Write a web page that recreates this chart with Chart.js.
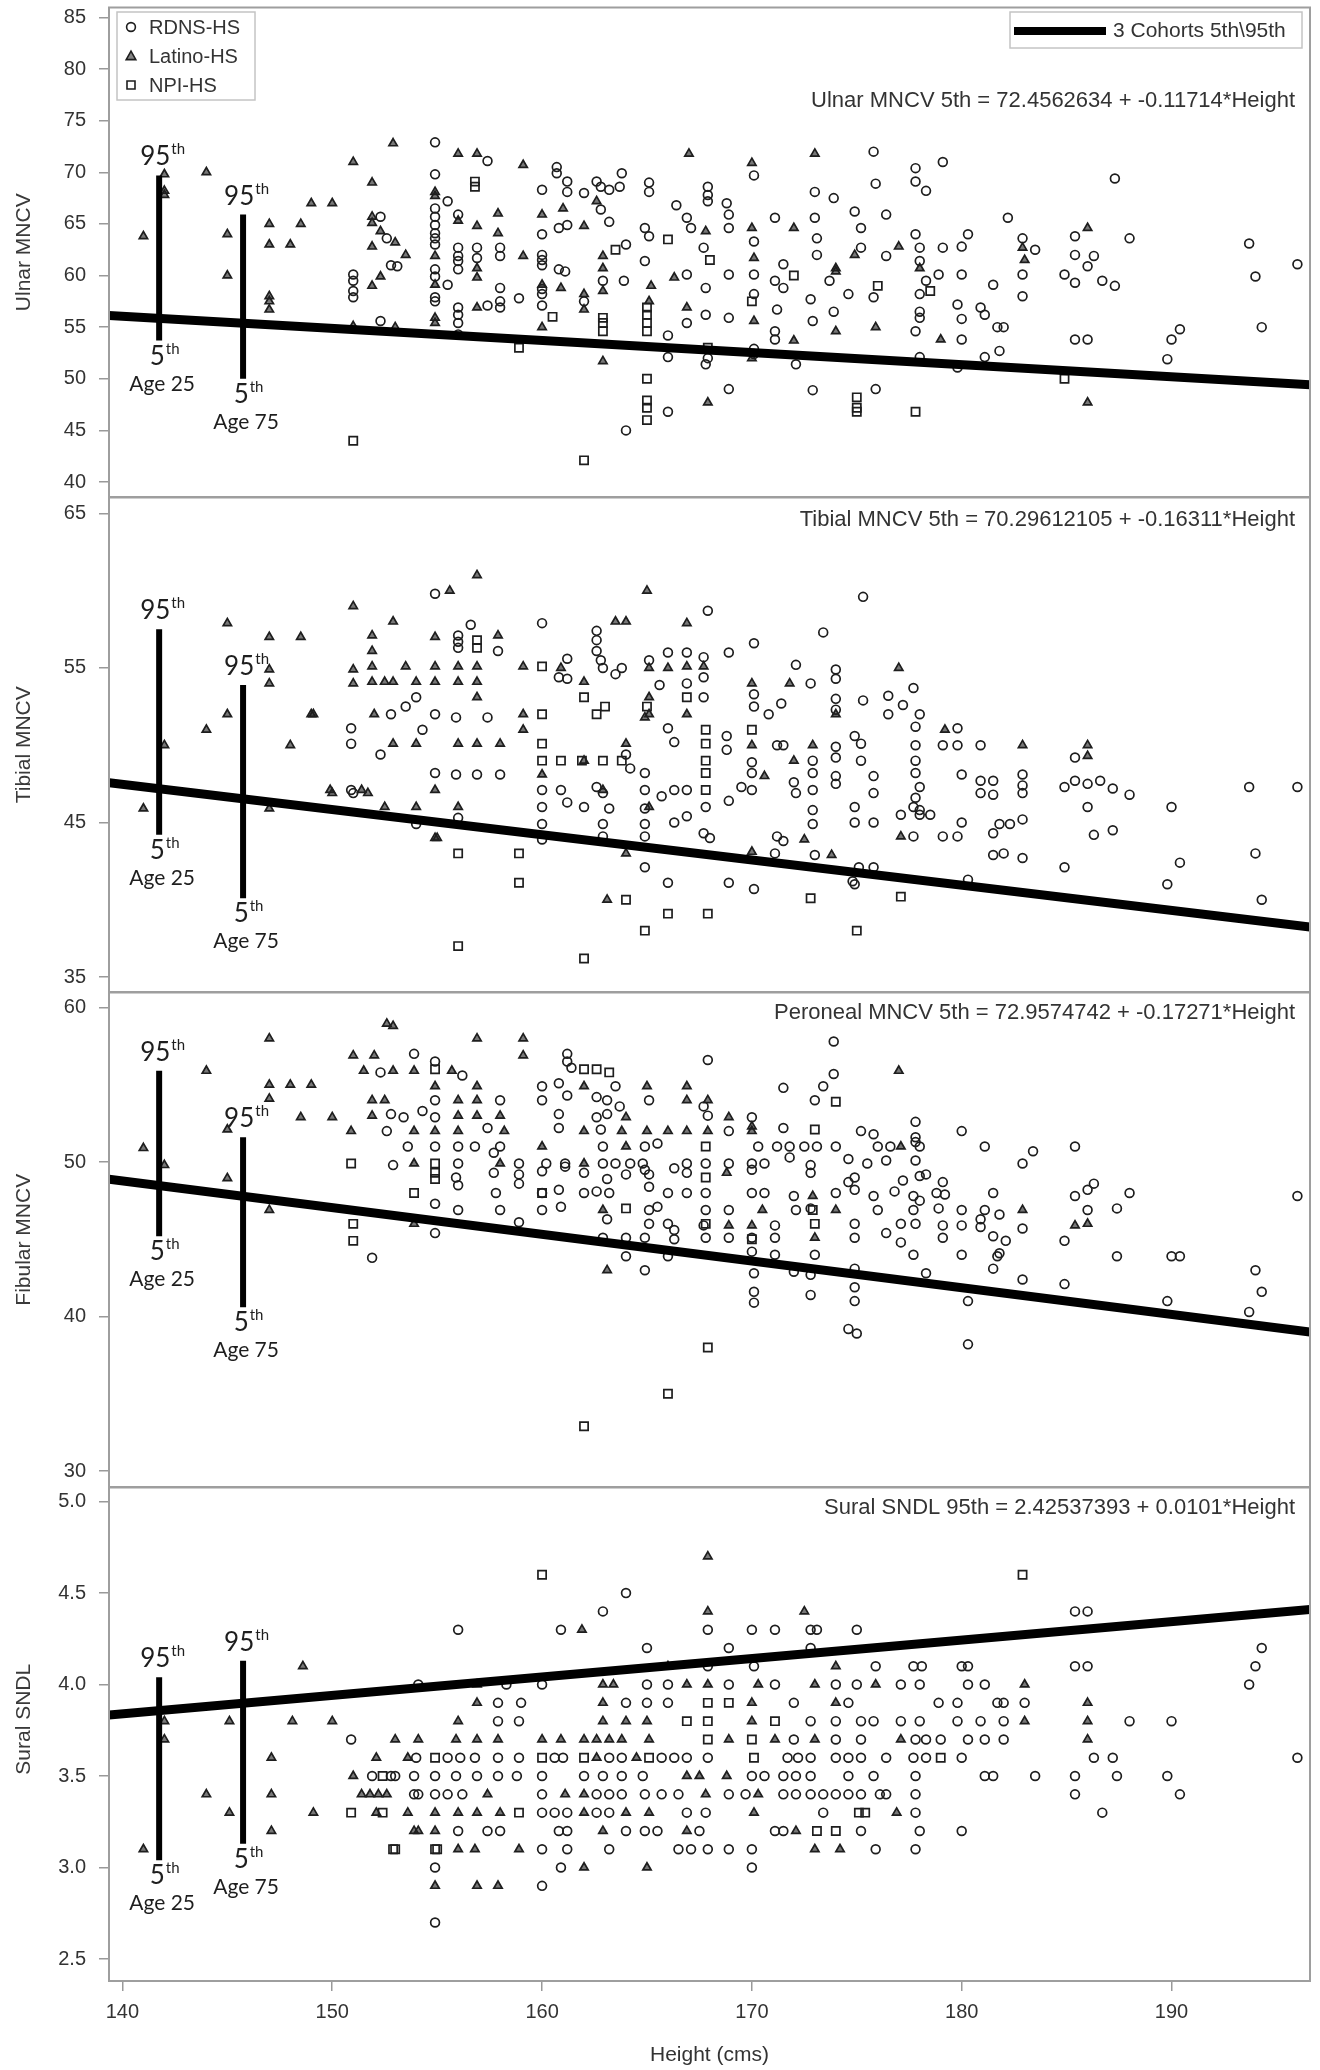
<!DOCTYPE html>
<html>
<head>
<meta charset="utf-8">
<title>MNCV / SNDL by height</title>
<script src="https://cdn.jsdelivr.net/npm/chart.js@4.4.1/dist/chart.umd.min.js"></script>
<style>
  body { margin: 0; background: #fff; width: 1320px; height: 2070px; position: relative; overflow: hidden; }
  canvas { position: absolute; left: 0; }
</style>
</head>
<body>
<canvas id="c1" width="1320" height="505" style="top:0"></canvas>
<canvas id="c2" width="1320" height="510" style="top:490px"></canvas>
<canvas id="c3" width="1320" height="510" style="top:985px"></canvas>
<canvas id="c4" width="1320" height="590" style="top:1480px"></canvas>
<script>
// ---- shared axis ----
const heightRange = [139.36, 196.6];
const heightTicks = [140, 150, 160, 170, 180, 190];
const fitX = [139.36, 196.6];
const barX = [141.75, 145.75];
const ageLabels = ['Age 25', 'Age 75'];

// ---- Ulnar MNCV ----
const ulnarRange = [38.55, 85.96];
const ulnarTicks = [40, 45, 50, 55, 60, 65, 70, 75, 80, 85];
const ulnarFitY = [56.13, 49.43];
const ulnarBarLow = [53.7, 50.0];
const ulnarBarHigh = [69.7, 65.9];
const ulnarRdns = [[151,60.1],[151,59.5],[151,58.5],[151,57.9],
  [152.3,65.7],[152.6,63.6],[152.8,61.0],[153.1,60.9],[152.3,55.6],
  [154.9,72.9],[154.9,69.8],[154.9,66.5],[154.9,65.7],[154.9,64.9],[154.9,64.1],[154.9,63.6],[154.9,63.0],[154.9,60.6],[154.9,59.9],[154.9,57.9],[154.9,57.5],
  [155.5,67.2],[156.0,65.9],[156.0,62.7],[156.0,61.9],[156.0,61.4],[156.0,60.6],[155.5,59.1],[156.0,56.9],[156.0,56.2],[156.0,55.4],[156.0,54.3],
  [157.4,71.1],[156.9,62.7],[156.9,61.7],[157.4,57.1],[158.0,56.9],[158.0,62.7],[158.0,61.9],[158.0,58.8],[158.0,57.5],[158.9,57.8],
  [160.0,68.3],[160.0,64.0],[160.0,62.0],[160.0,61.5],[160.0,61.0],[160.0,58.7],[160.0,58.2],[160.0,57.1],
  [160.7,70.5],[160.7,69.9],[161.2,69.1],[161.2,68.1],[162.0,68.0],[160.8,64.6],[161.2,64.9],[160.8,60.6],[161.1,60.4],[162.0,57.5],
  [162.6,69.1],[162.8,68.6],[163.2,68.3],[163.7,68.6],[162.8,66.4],[163.2,65.2],[162.9,59.5],[163.8,69.9],[164.0,63.0],[163.9,59.5],[164.0,45.0],
  [165.1,69.0],[165.1,68.1],[164.9,64.6],[165.1,63.8],[164.9,61.4],[166.0,54.2],[166.0,52.1],[166.0,46.8],
  [166.4,66.8],[166.9,65.6],[167.1,64.6],[167.7,62.7],[166.9,60.1],[167.8,58.8],[166.9,55.4],[167.8,56.2],[167.9,68.6],[167.9,67.8],[167.9,67.2],[167.8,51.4],[167.9,52.0],
  [168.8,67.0],[168.9,65.9],[168.9,64.6],[168.9,60.1],[168.9,55.9],[168.9,49.0],[170.1,69.7],[170.1,63.3],[170.1,60.1],[170.1,58.2],[170.1,52.9],[170.1,52.4],
  [171.1,65.6],[171.5,61.1],[171.1,59.5],[171.2,56.7],[171.1,54.6],[171.1,53.8],[172.1,51.4],[171.5,58.8],
  [173.0,68.1],[173.9,67.5],[173.0,65.6],[173.1,63.6],[173.1,62.0],[173.7,59.5],[172.8,57.7],[173.9,56.5],[172.9,55.6],[172.9,48.9],
  [174.9,66.2],[175.2,64.6],[175.2,62.7],[175.8,57.9],[174.6,58.2],[175.9,68.9],[175.8,72.0],[175.9,49.0],
  [176.4,65.9],[176.4,61.9],[177.8,64.0],[178.0,62.7],[178.0,61.4],[178.3,59.5],[178.0,58.2],[178.0,56.5],[178.0,55.9],[177.8,54.6],[178.0,52.1],[177.8,70.4],[177.8,69.1],[178.3,68.2],
  [179.1,71.0],[179.1,62.7],[180.0,62.8],[180.3,64.0],[178.9,60.1],[180.0,60.1],[179.8,57.2],[180.0,55.8],[180.0,53.8],[179.8,51.1],[181.1,52.1],[180.9,56.9],[181.1,56.2],[181.5,59.1],[181.7,55.0],[182.0,55.0],[181.8,52.7],
  [182.2,65.6],[182.9,63.6],[183.5,62.5],[182.9,60.1],[182.9,58.0],
  [185.4,63.8],[185.4,62.0],[186.3,61.9],[186.0,60.9],[184.9,60.1],[185.4,59.3],[186.7,59.5],[187.3,59.0],[185.4,53.8],[186.0,53.8],
  [187.3,69.4],[188.0,63.6],[189.8,51.9],[190.0,53.8],[190.4,54.8],[193.7,63.1],[194.0,59.9],[194.3,55.0],[196.0,61.1]];
const ulnarLatino = [[141.0,63.8],[142.0,69.8],[142.0,68.2],[142.0,67.8],[144.0,70.0],[145.0,64.0],[145.0,60.0],
  [147.0,65.0],[147.0,63.0],[147.0,58.0],[147.0,57.5],[147.0,56.7],[148.0,63.0],[148.5,65.0],[149.0,67.0],[150.0,67.0],
  [151.0,71.0],[151.0,55.1],[151.9,69.0],[151.9,65.7],[151.9,65.1],[152.3,64.3],[151.9,62.8],[152.3,59.9],[151.9,59.0],[153.0,55.0],
  [152.9,72.8],[153.0,63.2],[153.5,62.0],[154.9,68.1],[154.9,67.7],[154.9,61.9],[154.9,59.1],[154.9,55.9],[154.9,55.4],
  [156.0,71.8],[156.0,65.3],[156.9,71.8],[156.9,64.8],[156.9,60.7],[156.9,59.8],[156.9,56.9],[157.9,66.0],[157.9,64.1],
  [159.1,70.7],[159.1,61.9],[160.0,65.9],[160.0,59.1],[160.0,55.0],[161.0,66.5],[160.9,58.8],[162.0,64.8],[162.0,58.2],[162.0,56.7],
  [162.6,67.2],[162.9,61.9],[162.9,60.7],[162.9,58.5],[162.9,51.7],[165.2,59.0],[165.1,57.5],[166.9,56.9],[167.8,64.3],[166.3,59.8],[167.0,71.8],[167.9,47.7],
  [170.0,70.9],[170.0,64.6],[170.1,61.7],[170.1,55.6],[170.0,52.0],[172.0,64.6],[172.0,53.7],[173.0,71.8],[174.0,60.7],[174.0,60.4],[174.0,54.6],
  [174.9,62.0],[175.9,55.0],[177.0,62.8],[178.0,60.7],[179.0,53.8],[182.9,62.7],[183.0,61.5],[186.0,64.6],[186.0,47.7]];
const ulnarNpi = [[151.0,44.0],[156.8,69.1],[156.8,68.6],[158.9,53.0],[162.0,42.1],[162.9,55.9],[162.9,55.4],[162.9,54.6],
  [165.0,56.9],[165.0,56.2],[165.0,55.4],[165.0,54.6],[165.0,50.0],[165.0,47.9],[165.0,47.2],[165.0,46.0],[167.9,53.0],
  [175.0,48.2],[175.0,47.2],[175.0,46.8],[177.8,46.8],[184.9,50.0],[170.0,57.5],[168.0,61.5],[166.0,63.5],[172.0,60.0],
  [163.5,62.5],[176.0,59.0],[178.5,58.5],[160.5,56.0]];

// ---- Tibial MNCV ----
const tibialRange = [34.03, 66.03];
const tibialTicks = [35, 45, 55, 65];
const tibialFitY = [47.57, 38.23];
const tibialBarLow = [44.2, 40.1];
const tibialBarHigh = [57.5, 53.9];
const tibialRdns = [[151.0,46.9],[154.9,59.8],[175.3,59.6],[160.0,57.9],[167.9,58.7],[173.4,57.3],[156.6,57.8],
  [156.0,57.1],[156.0,56.7],[156.0,56.3],[157.9,56.1],[162.6,57.4],[162.6,56.8],[162.6,56.1],[162.8,55.5],[162.9,55.0],
  [170.1,56.6],[168.9,56.0],[166.0,56.0],[166.9,56.0],[167.7,55.7],[172.1,55.2],[161.2,55.6],[160.8,54.4],[161.2,54.3],[163.8,55.0],[163.5,54.6],[165.1,55.5],
  [165.6,53.9],[166.9,54.0],[167.7,54.4],[167.7,53.1],[174.0,54.3],[174.0,54.9],[172.8,54.0],
  [170.1,53.3],[170.1,52.5],[177.7,53.7],[176.5,53.2],[177.2,52.6],[176.5,52.0],[178.0,52.0],[177.8,51.2],
  [175.3,52.9],[174.0,53.0],[174.0,52.3],[171.4,52.7],[170.8,52.0],[152.8,52.0],[154.0,53.1],[153.5,52.5],[154.9,52.0],[155.9,51.8],[157.4,51.8],
  [150.9,51.1],[150.9,50.1],[154.3,51.0],[166.0,51.1],[166.3,50.2],[168.8,50.6],[168.8,49.7],
  [170.0,48.9],[170.0,48.2],[170.0,47.1],[171.2,50.0],[171.5,50.0],[172.9,49.0],[172.9,48.2],[172.9,47.1],[174.0,49.9],[174.0,49.2],[174.0,48.0],[174.0,47.5],
  [174.9,50.6],[175.2,50.1],[175.2,49.0],[175.8,48.0],[175.8,46.9],[177.8,50.0],[177.8,49.0],[177.8,48.2],[178.0,47.3],[177.8,46.6],[178.0,45.8],
  [179.8,51.1],[179.1,50.0],[179.8,50.0],[180.9,50.0],[185.4,49.2],[185.4,47.7],[186.0,47.5],[186.6,47.7],[184.9,47.3],[187.2,47.2],[188.0,46.8],
  [180.0,48.1],[180.9,47.7],[181.5,47.7],[180.9,46.9],[181.5,46.8],[182.9,48.1],[182.9,47.4],[182.9,46.9],
  [193.7,47.3],[196.0,47.3],[150.9,47.1],[155.9,48.1],[154.9,48.2],[156.9,48.1],[158.0,48.1],[152.3,49.4],
  [160.0,47.1],[160.0,46.0],[160.0,44.9],[160.9,47.1],[161.2,46.3],[162.0,46.0],[162.6,47.3],[162.9,46.9],[163.2,45.9],[162.9,44.9],[162.9,44.1],
  [164.0,49.4],[164.2,48.5],[164.9,48.2],[164.9,47.1],[164.9,45.9],[164.9,44.9],[164.9,44.1],
  [165.7,46.7],[166.3,47.1],[166.9,47.1],[167.8,46.0],[166.3,45.0],[166.9,45.4],[167.7,44.3],[168.0,44.0],
  [168.9,46.4],[169.5,47.3],[172.0,47.6],[172.1,46.9],[172.9,45.8],[172.9,44.9],[171.2,44.1],[171.5,43.8],
  [174.9,46.0],[174.9,45.0],[175.8,45.0],[177.1,45.5],[177.7,46.0],[178.0,45.5],[178.5,45.5],
  [177.7,44.1],[179.1,44.1],[179.8,44.1],[180.0,45.0],[181.8,44.9],[182.3,44.9],[182.9,45.2],
  [181.5,44.3],[181.5,42.9],[182.0,43.0],[182.9,42.7],[186.0,46.0],[186.3,44.2],[187.2,44.5],
  [190.0,46.0],[194.0,43.0],[190.4,42.4],[189.8,41.0],[194.3,40.0],[184.9,42.1],[180.3,41.3],
  [154.0,44.9],[156.0,45.3],[160.0,43.9],[164.9,42.1],[166.0,41.1],[168.9,41.1],[170.1,40.7],
  [174.8,41.2],[174.9,41.0],[171.1,43.0],[173.0,42.9],[175.8,42.1],[175.1,42.1]];
const tibialLatino = [[141.0,45.9],[142.0,50.0],[144.0,51.0],[145.0,57.9],[145.0,52.0],[147.0,57.0],[147.0,54.9],[147.0,54.0],[147.0,45.9],
  [148.5,57.0],[149.0,52.0],[148.0,50.0],[150.0,46.9],[151.0,59.0],[151.0,54.9],[151.0,54.0],[151.7,46.9],[155.0,44.0],
  [156.9,61.0],[155.6,60.0],[165.0,60.0],[152.9,58.0],[163.5,58.0],[164.0,58.0],[166.9,57.9],[151.9,57.1],[154.9,57.0],[157.9,57.1],[151.9,56.1],
  [151.9,55.1],[153.5,55.1],[154.9,55.1],[156.0,55.1],[156.9,55.1],[159.1,55.1],
  [151.9,54.1],[152.5,54.1],[152.9,54.1],[154.0,54.1],[154.9,54.1],[156.0,54.1],[156.9,54.1],
  [160.9,55.0],[162.0,54.1],[165.1,55.0],[166.0,55.0],[166.9,55.1],[167.7,55.1],[170.0,54.0],[171.8,54.0],[177.0,55.0],
  [149.1,52.0],[152.0,52.0],[156.9,53.1],[159.1,52.0],[165.1,53.1],[165.1,52.0],
  [152.9,50.1],[154.0,50.1],[156.0,50.1],[156.9,50.1],[158.0,50.1],[159.1,51.0],[162.0,49.0],[164.0,50.1],[164.9,51.8],[166.9,52.0],
  [170.0,50.0],[172.0,49.0],[172.9,50.0],[174.0,52.0],[179.2,51.0],[182.9,50.0],[186.0,50.0],[186.0,49.3],
  [149.9,47.1],[151.4,47.1],[154.9,47.1],[152.5,46.0],[154.0,46.0],[156.0,46.0],[160.0,48.1],[162.9,47.1],[165.1,46.0],[170.6,48.0],
  [172.5,43.9],[173.8,42.9],[170.0,43.1],[177.1,44.1],[154.9,44.0],[164.0,43.0],[163.1,40.0]];
const tibialNpi = [[160.0,50.1],[160.0,49.0],[160.9,49.0],[161.9,49.0],[162.9,49.0],[163.8,49.0],
  [167.8,51.0],[167.8,50.1],[167.8,49.0],[167.8,48.2],[167.8,47.1],[156.9,56.3],[156.9,56.8],[162.6,52.0],[163.0,52.5],[160.0,52.0],
  [156.0,37.0],[162.0,36.2],[164.9,38.0],[166.0,39.1],[167.9,39.1],[175.0,38.0],[158.9,43.0],[158.9,41.1],[164.0,40.0],[156.0,43.0],
  [172.8,40.1],[177.1,40.2],[160.0,55.1],[165.0,52.5],[170.0,51.0],[162.0,53.1],[166.9,53.1]];

// ---- Fibular MNCV ----
const fibularRange = [28.97, 60.97];
const fibularTicks = [30, 40, 50, 60];
const fibularFitY = [48.89, 39.0];
const fibularBarLow = [45.2, 40.6];
const fibularBarHigh = [55.9, 51.6];
const fibularRdns = [[153.9,57.0],[173.9,57.8],[161.2,57.0],[161.2,56.5],[161.4,56.1],[167.9,56.6],[152.3,55.8],[156.2,55.6],[154.9,56.5],[173.9,55.7],
  [160.0,54.9],[160.8,55.1],[163.5,54.9],[171.5,54.8],[173.4,54.9],
  [154.9,54.0],[158.0,54.0],[160.0,54.0],[161.2,54.3],[162.6,54.2],[163.1,54.0],[165.1,54.0],[173.0,54.0],
  [152.8,53.1],[153.4,52.9],[154.3,53.3],[154.9,52.9],[160.8,53.1],[162.6,52.9],[163.7,53.6],[163.1,53.1],[167.7,53.6],[167.9,53.0],[170.0,52.9],
  [152.6,52.0],[157.4,52.2],[160.8,52.2],[162.8,52.1],[168.9,52.0],[171.5,52.2],[175.2,52.0],[175.8,51.8],[177.8,52.6],[180.0,52.0],
  [153.6,51.0],[154.9,51.0],[156.0,51.0],[156.8,51.0],[157.7,50.6],[158.0,51.0],[162.9,51.0],[164.9,51.0],[165.5,51.2],[170.3,51.0],[171.2,51.0],
  [171.8,51.0],[172.5,51.0],[173.1,51.0],[174.0,51.0],[176.0,51.0],[176.6,51.0],[178.0,51.0],[181.1,51.0],[183.4,50.7],[185.4,51.0],[177.8,51.6],[177.8,51.3],
  [152.9,49.8],[156.0,49.9],[158.9,49.9],[160.2,49.9],[161.1,49.9],[162.9,49.9],[163.5,49.9],[164.2,49.9],[164.8,49.9],[166.3,49.6],[166.9,49.9],
  [167.8,49.9],[168.9,49.9],[170.0,49.9],[170.6,49.9],[171.8,50.3],[172.8,49.8],[174.6,50.2],[175.5,49.9],[176.4,50.1],[177.8,50.1],[182.9,49.9],
  [155.9,49.0],[157.7,49.3],[158.9,49.2],[160.0,49.4],[161.1,49.7],[162.0,49.3],[163.1,48.9],[164.0,49.2],[164.9,49.5],[165.1,49.2],[166.9,49.3],
  [170.0,49.5],[172.8,49.3],[174.6,48.7],[174.9,49.0],[177.2,48.8],[178.0,49.1],[178.3,49.2],[179.1,48.7],[186.3,48.6],[186.0,48.2],
  [156.0,48.5],[157.8,48.0],[158.9,48.6],[160.0,48.0],[160.8,48.2],[162.0,48.0],[162.6,48.1],[163.2,48.0],[165.1,48.4],[166.0,48.0],[166.9,48.0],
  [167.8,48.0],[170.0,48.0],[170.6,48.0],[172.0,47.8],[174.0,48.0],[174.9,48.2],[175.8,47.8],[176.8,48.1],[177.7,47.8],[178.0,47.5],[178.8,48.0],
  [179.2,47.9],[181.5,48.0],[185.4,47.8],[188.0,48.0],
  [154.9,47.3],[156.0,46.9],[158.0,46.9],[160.0,46.9],[160.9,47.1],[165.1,46.9],[165.5,47.1],[167.8,46.9],[168.9,46.9],[172.1,46.9],[172.8,47.0],
  [176.0,46.9],[177.7,46.9],[178.9,47.0],[180.0,46.9],[181.1,46.9],[181.8,46.6],[186.0,46.9],[187.4,47.0],[154.9,45.4],[151.9,43.8],
  [158.9,46.1],[163.1,46.3],[165.1,46.0],[166.0,46.0],[166.3,45.6],[167.7,45.9],[171.1,45.9],[174.9,46.0],[177.1,46.0],[177.8,46.0],[179.1,45.9],
  [180.0,45.9],[180.9,46.3],[180.9,45.8],[182.9,45.7],
  [162.9,45.1],[164.0,45.1],[164.9,45.1],[166.3,45.0],[167.8,45.1],[168.9,45.1],[170.0,45.1],[171.1,45.1],[174.9,45.1],[176.4,45.4],[177.1,44.8],
  [179.1,45.1],[181.5,45.2],[182.1,44.9],[184.9,44.9],
  [164.0,43.9],[166.0,43.9],[170.0,44.2],[171.1,44.0],[173.0,44.0],[177.7,44.0],[180.0,44.0],[181.7,43.9],[181.8,44.1],[187.4,43.9],[190.0,43.9],[190.4,43.9],
  [164.9,43.0],[170.1,42.8],[172.0,42.9],[172.8,42.7],[174.9,43.1],[178.3,42.8],[181.5,43.1],[182.9,42.4],
  [170.1,41.6],[170.1,40.9],[172.8,41.4],[174.9,41.9],[174.9,41.0],[180.3,41.0],[184.9,42.1],[189.8,41.0],[194.0,43.0],[194.3,41.6],[193.7,40.3],
  [174.6,39.2],[175.0,38.9],[180.3,38.2],[196.0,47.8]];
const fibularLatino = [[141.0,50.9],[142.0,49.8],[144.0,55.9],[145.0,52.1],[145.0,48.95],[147.0,58.0],[147.0,55.0],[147.0,54.1],[147.0,46.9],
  [148.0,55.0],[149.0,55.0],[148.5,52.9],[150.0,52.9],[151.0,56.9],[152.0,56.9],[152.6,58.95],
  [152.9,58.8],[156.9,58.0],[159.1,58.0],[159.1,56.9],[151.5,55.9],[152.9,55.9],[153.9,55.9],[155.7,55.9],[177.0,55.9],
  [154.9,54.9],[156.9,54.9],[162.0,54.9],[165.0,54.9],[166.9,54.9],
  [151.9,54.0],[152.5,54.0],[156.0,54.0],[156.9,54.0],[166.9,54.0],[167.9,54.0],
  [151.9,53.0],[156.0,53.0],[156.9,53.0],[158.0,53.0],[164.0,52.9],[168.9,52.9],[170.0,52.3],
  [150.9,52.0],[153.9,52.0],[154.9,52.0],[156.0,52.0],[158.2,52.0],[162.0,52.0],[163.8,52.0],[165.0,52.0],[166.0,52.0],[166.9,52.0],[167.9,52.0],[170.0,52.0],
  [160.0,51.0],[164.0,51.0],[177.1,51.0],[153.9,49.9],[158.0,49.9],[162.0,49.9],[168.8,49.3],[172.9,47.8],
  [162.9,46.9],[170.5,46.9],[174.0,46.9],[182.9,46.9],[153.9,46.0],[168.9,45.9],[170.0,45.9],[185.4,45.9],[186.0,46.0],[173.0,45.1],[163.1,43.0]];
const fibularNpi = [[154.9,56.0],[162.0,56.0],[162.6,56.0],[163.2,55.8],[174.0,53.9],[173.0,52.1],[167.8,51.0],[150.9,49.9],[154.9,49.9],
  [154.9,49.3],[154.9,48.9],[167.8,49.0],[153.9,48.0],[173.0,46.0],[167.9,38.0],[166.0,35.0],[162.0,32.9],[151.0,46.0],[151.0,44.9],
  [160.0,48.0],[164.0,47.0],[167.8,46.0],[170.0,45.0],[172.9,46.9]];

// ---- Sural SNDL ----
const suralRange = [2.38, 5.077];
const suralTicks = [2.5, 3.0, 3.5, 4.0, 4.5, 5.0];
const suralFitY = [3.833, 4.411];
const suralBarLow = [3.04, 3.13];
const suralBarHigh = [4.04, 4.13];
const suralRdns = [[164.0,4.5],[162.9,4.4],[185.4,4.4],[186.0,4.4],
  [156.0,4.3],[160.9,4.3],[167.9,4.3],[170.0,4.3],[171.1,4.3],[172.8,4.3],[173.1,4.3],[175.0,4.3],
  [165.0,4.2],[168.9,4.2],[172.8,4.2],[194.3,4.2],
  [167.9,4.1],[170.1,4.1],[175.9,4.1],[177.7,4.1],[178.1,4.1],[180.0,4.1],[180.3,4.1],[185.4,4.1],[186.0,4.1],[194.0,4.1],
  [158.3,4.0],[160.0,4.0],[165.0,4.0],[166.0,4.0],[168.9,4.0],[171.1,4.0],[174.0,4.0],[175.0,4.0],[177.1,4.0],[178.0,4.0],[180.3,4.0],[181.1,4.0],[193.7,4.0],[154.1,4.0],
  [157.9,3.9],[159.0,3.9],[164.0,3.9],[165.0,3.9],[166.0,3.9],[172.0,3.9],[174.6,3.9],[178.9,3.9],[179.8,3.9],[181.7,3.9],[182.0,3.9],[183.0,3.9],
  [157.9,3.8],[158.9,3.8],[172.8,3.8],[174.0,3.8],[175.2,3.8],[175.8,3.8],[177.1,3.8],[178.0,3.8],[179.8,3.8],[180.9,3.8],[182.0,3.8],[188.0,3.8],[190.0,3.8],
  [150.9,3.7],[172.0,3.7],[174.0,3.7],[175.2,3.7],[177.8,3.7],[178.3,3.7],[179.0,3.7],[180.3,3.7],[181.1,3.7],[182.0,3.7],
  [155.5,3.6],[156.1,3.6],[156.8,3.6],[157.9,3.6],[158.9,3.6],[160.6,3.6],[161.0,3.6],[163.2,3.6],[163.8,3.6],[165.7,3.6],[166.3,3.6],[166.9,3.6],
  [167.9,3.6],[171.7,3.6],[172.2,3.6],[172.8,3.6],[174.0,3.6],[174.6,3.6],[175.2,3.6],[176.4,3.6],[177.7,3.6],[178.3,3.6],[180.0,3.6],[186.3,3.6],[187.2,3.6],[196.0,3.6],[154.0,3.6],
  [151.9,3.5],[152.8,3.5],[153.9,3.5],[154.9,3.5],[155.9,3.5],[156.9,3.5],[157.9,3.5],[158.8,3.5],[160.0,3.5],[162.0,3.5],[162.9,3.5],[163.8,3.5],
  [164.8,3.5],[170.0,3.5],[170.6,3.5],[171.5,3.5],[172.1,3.5],[172.8,3.5],[174.6,3.5],[175.8,3.5],[177.8,3.5],[181.1,3.5],[181.5,3.5],[183.5,3.5],
  [185.4,3.5],[187.4,3.5],[189.8,3.5],[153.0,3.5],
  [153.9,3.4],[154.9,3.4],[155.5,3.4],[156.2,3.4],[160.0,3.4],[162.6,3.4],[163.2,3.4],[163.8,3.4],[164.9,3.4],[165.7,3.4],[166.5,3.4],[168.9,3.4],
  [169.7,3.4],[171.5,3.4],[172.1,3.4],[172.8,3.4],[173.4,3.4],[174.0,3.4],[174.6,3.4],[175.2,3.4],[176.1,3.4],[176.4,3.4],[177.8,3.4],[185.4,3.4],[190.4,3.4],[154.1,3.4],
  [160.0,3.3],[160.6,3.3],[161.2,3.3],[162.6,3.3],[163.2,3.3],[166.9,3.3],[167.8,3.3],[173.4,3.3],[177.8,3.3],[186.7,3.3],
  [156.0,3.2],[157.4,3.2],[158.0,3.2],[160.8,3.2],[161.2,3.2],[164.0,3.2],[164.9,3.2],[165.5,3.2],[167.5,3.2],[171.1,3.2],[171.5,3.2],[175.2,3.2],[178.0,3.2],[180.0,3.2],
  [160.0,3.1],[161.2,3.1],[163.2,3.1],[166.5,3.1],[167.1,3.1],[167.9,3.1],[168.9,3.1],[170.0,3.1],[175.9,3.1],[177.8,3.1],
  [154.9,3.0],[160.9,3.0],[170.0,3.0],[160.0,2.9],[154.9,2.7]];
const suralLatino = [[141.0,3.1],[142.0,3.8],[142.0,3.7],[144.0,3.4],[145.1,3.8],[145.1,3.3],[147.1,3.6],[147.1,3.4],[147.1,3.2],[148.1,3.8],
  [148.6,4.1],[149.1,3.3],[150.0,3.8],[151.0,3.5],[151.4,3.4],[151.8,3.4],[152.2,3.4],[152.6,3.4],[152.1,3.3],[152.1,3.6],[153.0,3.7],[154.1,3.7],
  [153.6,3.6],[154.1,3.2],[153.6,3.3],
  [167.9,4.7],[167.9,4.4],[172.5,4.4],[161.9,4.3],[166.0,4.1],[174.0,4.1],
  [156.9,4.0],[162.9,4.0],[163.4,4.0],[166.9,4.0],[167.9,4.0],[170.3,4.0],[173.0,4.0],[175.9,4.0],[183.0,4.0],
  [156.9,3.9],[162.9,3.9],[170.0,3.9],[174.0,3.9],[186.0,3.9],
  [156.0,3.8],[162.9,3.8],[164.0,3.8],[165.0,3.8],[170.0,3.8],[183.0,3.8],[186.0,3.8],
  [155.9,3.7],[156.9,3.7],[157.9,3.7],[160.0,3.7],[160.9,3.7],[162.0,3.7],[162.6,3.7],[163.2,3.7],[163.8,3.7],[165.1,3.7],[168.9,3.7],[171.1,3.7],[173.0,3.7],[177.1,3.7],[186.0,3.7],
  [162.6,3.6],[164.5,3.6],[166.9,3.5],[167.5,3.5],[168.8,3.5],
  [157.4,3.4],[161.1,3.4],[162.0,3.4],[167.8,3.4],[170.3,3.4],
  [154.9,3.3],[156.0,3.3],[156.9,3.3],[158.0,3.3],[162.0,3.3],[164.0,3.3],[165.1,3.3],[170.1,3.3],[176.9,3.3],
  [153.9,3.2],[154.9,3.2],[162.9,3.2],[166.9,3.2],[172.1,3.2],
  [156.0,3.1],[156.8,3.1],[158.9,3.1],[173.0,3.1],[174.2,3.1],[162.0,3.0],[165.0,3.0],[154.9,2.9],[156.9,2.9],[157.9,2.9]];
const suralNpi = [[160.0,4.6],[182.9,4.6],[167.9,3.9],[168.9,3.9],[166.9,3.8],[167.9,3.8],[171.1,3.8],[167.9,3.7],[170.0,3.7],
  [154.9,3.6],[160.0,3.6],[162.0,3.6],[165.1,3.6],[170.1,3.6],[179.0,3.6],[150.9,3.3],[158.9,3.3],[175.1,3.3],[175.4,3.3],
  [173.1,3.2],[174.0,3.2],[152.9,3.1],[154.9,3.1],[153.0,3.1],[152.4,3.3],[152.4,3.5],[155.0,3.1]];

// ---- drawing ----
const FONT = '"Liberation Sans", Arial, sans-serif';
const LBL = 'Lato, "Open Sans", sans-serif';
const ink = '#1e1e1e';

function supText(ctx, base, sup, cx, baseline) {
  ctx.font = '26px ' + LBL;
  const w1 = ctx.measureText(base).width;
  ctx.font = '15px ' + LBL;
  const w2 = ctx.measureText(sup).width;
  const left = cx - (w1 + w2) / 2;
  ctx.textAlign = 'left';
  ctx.textBaseline = 'alphabetic';
  ctx.font = '26px ' + LBL;
  ctx.fillText(base, left, baseline);
  ctx.font = '15px ' + LBL;
  ctx.fillText(sup, left + w1 + 1, baseline - 11);
}

function marker(ctx, style, x, y) {
  ctx.beginPath();
  if (style === 'circle') {
    ctx.arc(x, y, 4.4, 0, Math.PI * 2);
    ctx.stroke();
  } else if (style === 'triangle') {
    ctx.moveTo(x, y - 4.8); ctx.lineTo(x + 4.8, y + 3.6); ctx.lineTo(x - 4.8, y + 3.6); ctx.closePath();
    ctx.fillStyle = 'rgba(30,30,30,0.55)'; ctx.fill(); ctx.stroke();
  } else {
    ctx.rect(x - 4, y - 4, 8, 8);
    ctx.stroke();
  }
}

const decor = {
  id: 'decor',
  afterDatasetsDraw(chart, args, o) {
    const ctx = chart.ctx, a = chart.chartArea;
    const xs = chart.scales.x, ys = chart.scales.y;
    ctx.save();
    ctx.strokeStyle = '#9e9e9e';
    ctx.lineWidth = 2;
    ctx.strokeRect(a.left, a.top, a.right - a.left, a.bottom - a.top);

    // y title
    ctx.save();
    ctx.fillStyle = '#3a3a3a';
    ctx.font = '21px ' + FONT;
    ctx.translate(24, (a.top + a.bottom) / 2 + (o.titleShift || 0));
    ctx.rotate(-Math.PI / 2);
    ctx.textAlign = 'center';
    ctx.textBaseline = 'middle';
    ctx.fillText(o.yTitle, 0, 0);
    ctx.restore();

    // equation
    ctx.fillStyle = '#333';
    ctx.font = '22px ' + FONT;
    ctx.textAlign = 'right';
    ctx.textBaseline = 'middle';
    ctx.fillText(o.equation, a.right - 15, a.top + o.eqY);

    // percentile bar labels
    ctx.fillStyle = ink;
    barX.forEach((bx, i) => {
      const px = xs.getPixelForValue(bx);
      const top = ys.getPixelForValue(o.high[i]);
      const bot = ys.getPixelForValue(o.low[i]);
      supText(ctx, '95', 'th', px + 3, top - 10);
      supText(ctx, '5', 'th', px + 5, bot + 24);
      ctx.font = '21px ' + LBL;
      ctx.textAlign = 'center';
      ctx.textBaseline = 'alphabetic';
      ctx.fillText(ageLabels[i], px + 3, bot + 50);
    });

    if (o.legend) {
      ctx.strokeStyle = '#c4c4c4';
      ctx.lineWidth = 1.5;
      ctx.strokeRect(117, 12, 138, 88);
      const items = [['circle', 'RDNS-HS'], ['triangle', 'Latino-HS'], ['rect', 'NPI-HS']];
      items.forEach((it, i) => {
        const y = 27 + i * 29;
        ctx.strokeStyle = ink;
        ctx.lineWidth = 1.6;
        marker(ctx, it[0], 131, y);
        ctx.fillStyle = '#333';
        ctx.font = '20px ' + FONT;
        ctx.textAlign = 'left';
        ctx.textBaseline = 'middle';
        ctx.fillText(it[1], 149, y + 1);
      });
      ctx.strokeStyle = '#c4c4c4';
      ctx.lineWidth = 1.5;
      ctx.strokeRect(1010, 12, 292, 36);
      ctx.strokeStyle = '#000';
      ctx.lineWidth = 8;
      ctx.beginPath(); ctx.moveTo(1014, 31); ctx.lineTo(1106, 31); ctx.stroke();
      ctx.fillStyle = '#333';
      ctx.font = '21px ' + FONT;
      ctx.fillText('3 Cohorts 5th\\95th', 1113, 31);
    }

    if (o.xTitle) {
      ctx.fillStyle = '#333';
      ctx.font = '21px ' + FONT;
      ctx.textAlign = 'center';
      ctx.textBaseline = 'middle';
      ctx.fillText(o.xTitle, (a.left + a.right) / 2, 575);
    }
    ctx.restore();
  }
};

function scatterSet(data, style) {
  const s = {
    rdns: { pointStyle: 'circle', pointRadius: 4.4, backgroundColor: 'rgba(0,0,0,0)' },
    latino: { pointStyle: 'triangle', pointRadius: 4.8, backgroundColor: 'rgba(30,30,30,0.6)' },
    npi: { pointStyle: 'rect', pointRadius: 5.8, backgroundColor: 'rgba(0,0,0,0)' }
  }[style];
  return Object.assign({ data: data, borderColor: ink, pointBorderWidth: 1.7, pointHoverRadius: 0, showLine: false, order: 5 }, s);
}

function lineSet(xs, ys, w) {
  return { data: xs.map((x, i) => ({ x: x, y: ys[i] })), showLine: true, borderColor: '#000', borderWidth: w,
    pointRadius: 0, fill: false, clip: 0, order: 1 };
}

function makePanel(id, cfg) {
  const datasets = [
    lineSet(fitX, cfg.fitY, 9),
    lineSet([barX[0], barX[0]], [cfg.low[0], cfg.high[0]], 6),
    lineSet([barX[1], barX[1]], [cfg.low[1], cfg.high[1]], 6),
    scatterSet(cfg.rdns, 'rdns'),
    scatterSet(cfg.latino, 'latino'),
    scatterSet(cfg.npi, 'npi')
  ];
  const showX = !!cfg.xTitle;
  return new Chart(document.getElementById(id), {
    type: 'scatter',
    data: { datasets: datasets },
    plugins: [decor],
    options: {
      responsive: false,
      animation: false,
      events: [],
      layout: { padding: { top: cfg.padTop, bottom: showX ? 0 : 8, left: 0, right: 10 } },
      plugins: {
        legend: { display: false },
        tooltip: { enabled: false },
        decor: { yTitle: cfg.yTitle, equation: cfg.equation, eqY: cfg.eqY, low: cfg.low, high: cfg.high,
          legend: cfg.legend, xTitle: cfg.xTitle, titleShift: cfg.titleShift }
      },
      scales: {
        x: {
          type: 'linear', min: heightRange[0], max: heightRange[1], display: showX,
          afterBuildTicks: s => { s.ticks = heightTicks.map(v => ({ value: v })); },
          afterFit: s => { if (showX) { s.height = 89; s.paddingLeft = 0; s.paddingRight = 0; } },
          grid: { drawOnChartArea: false, drawTicks: true, tickLength: 10, color: '#999', lineWidth: 1.5 },
          border: { display: false },
          ticks: { color: '#333', font: { size: 20, family: FONT }, padding: 9, maxRotation: 0 }
        },
        y: {
          type: 'linear', min: cfg.range[0], max: cfg.range[1],
          afterBuildTicks: s => { s.ticks = cfg.ticks.map(v => ({ value: v })); },
          afterFit: s => { s.width = 109; s.paddingTop = 0; s.paddingBottom = 0; },
          grid: { drawOnChartArea: false, drawTicks: true, tickLength: 10, color: '#999', lineWidth: 1.5 },
          border: { display: false },
          ticks: { color: '#333', font: { size: 20, family: FONT }, padding: 13,
            callback: v => cfg.decimals ? v.toFixed(1) : String(v) }
        }
      }
    }
  });
}

makePanel('c1', { range: ulnarRange, ticks: ulnarTicks, fitY: ulnarFitY, low: ulnarBarLow, high: ulnarBarHigh,
  rdns: ulnarRdns, latino: ulnarLatino, npi: ulnarNpi, padTop: 5, yTitle: 'Ulnar MNCV',
  equation: 'Ulnar MNCV 5th = 72.4562634 + -0.11714*Height', eqY: 93, legend: true });
makePanel('c2', { range: tibialRange, ticks: tibialTicks, fitY: tibialFitY, low: tibialBarLow, high: tibialBarHigh,
  rdns: tibialRdns, latino: tibialLatino, npi: tibialNpi, padTop: 7, yTitle: 'Tibial MNCV',
  equation: 'Tibial MNCV 5th = 70.29612105 + -0.16311*Height', eqY: 22 });
makePanel('c3', { range: fibularRange, ticks: fibularTicks, fitY: fibularFitY, low: fibularBarLow, high: fibularBarHigh,
  rdns: fibularRdns, latino: fibularLatino, npi: fibularNpi, padTop: 7, yTitle: 'Fibular MNCV',
  equation: 'Peroneal MNCV 5th = 72.9574742 + -0.17271*Height', eqY: 20 });
makePanel('c4', { range: suralRange, ticks: suralTicks, fitY: suralFitY, low: suralBarLow, high: suralBarHigh,
  rdns: suralRdns, latino: suralLatino, npi: suralNpi, padTop: 7, yTitle: 'Sural SNDL', decimals: true,
  equation: 'Sural SNDL 95th = 2.42537393 + 0.0101*Height', eqY: 20, xTitle: 'Height (cms)', titleShift: -15 });
</script>
</body>
</html>
